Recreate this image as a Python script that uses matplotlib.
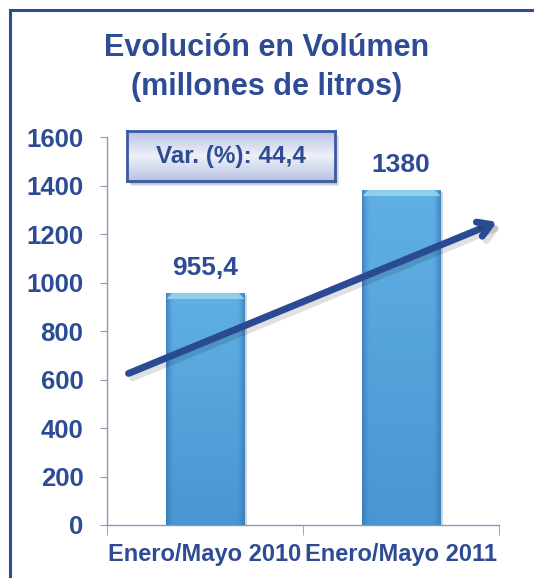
import matplotlib
matplotlib.use("Agg")
import matplotlib.pyplot as plt
import matplotlib.patheffects as pe
from matplotlib.patches import Rectangle
import numpy as np

plt.rcParams['font.family'] = ['Liberation Sans', 'DejaVu Sans']

categories = ['Enero/Mayo 2010', 'Enero/Mayo 2011']
volumes = [955.4, 1380]
value_labels = ['955,4', '1380']
yticks = [0, 200, 400, 600, 800, 1000, 1200, 1400, 1600]
variation_text = 'Var. (%): 44,4'
trend_start = (-0.39, 625)
trend_end = (1.49, 1250)

navy = '#2E4C95'
axis_col = '#8E98BC'

fig = plt.figure(figsize=(5.34, 5.78), dpi=100)
fig.patch.set_facecolor('white')

# outer border, runs off the right and bottom edges
fig.patches.append(Rectangle((0.0187, -0.2), 1.2, 1.1827, transform=fig.transFigure,
                             fill=False, edgecolor=navy, linewidth=2.2))

fig.text(0.5, 1 - 48 / 578, 'Evolución en Volúmen', ha='center', va='center',
         fontsize=22, fontweight='bold', color=navy)
fig.text(0.5, 1 - 87 / 578, '(millones de litros)', ha='center', va='center',
         fontsize=22, fontweight='bold', color=navy)

ax_h = (525 - 137) / 578
ax = fig.add_axes([107 / 534, 1 - 525 / 578, (499 - 107) / 534, ax_h])
ax.set_facecolor('none')
x = np.arange(len(categories))
bw = 0.40
bars = ax.bar(x, volumes, width=bw, color='#58A6DD', edgecolor='none', zorder=2)

ax.set_xlim(-0.5, 1.5)
ax.set_ylim(0, 1600)
px_per_unit = ax_h * 578 / 1600

# gradient fill for bars: vertical shade, darker sides, light bevel at top
top = np.array([0x60, 0xB0, 0xE4]) / 255
bot = np.array([0x4A, 0x95, 0xD2]) / 255
side = np.array([0x35, 0x75, 0xB5]) / 255
bevel_col = np.array([0x92, 0xD0, 0xF0]) / 255
for b in bars:
    b.set_path_effects([pe.SimplePatchShadow(offset=(2, -1), alpha=0.2), pe.Normal()])
    x0, y0 = b.get_x(), b.get_y()
    w, h = b.get_width(), b.get_height()
    hpx = int(h * px_per_unit)
    wpx = 79
    t = np.linspace(0, 1, hpx)[:, None, None]
    img = bot + (top - bot) * t
    img = np.repeat(img, wpx, axis=1)
    u = np.abs(np.linspace(-1, 1, wpx))[None, :, None]
    k = np.clip((u - 0.8) / 0.2, 0, 1) ** 1.5
    img = img * (1 - 0.7 * k) + side * 0.7 * k
    bev = 6
    for r in range(bev):
        row = hpx - 1 - r
        inset = bev - r
        f = 0.9 + 0.1 * r / bev
        img[row, inset:wpx - inset] = bevel_col * f + (1 - f) * top
    im = ax.imshow(np.clip(img, 0, 1), extent=(x0, x0 + w, y0, y0 + h),
                   origin='lower', aspect='auto', zorder=3, interpolation='bilinear')
    im.set_clip_path(b)

for xi, v, lab in zip(x, volumes, value_labels):
    ax.text(xi, v + 55, lab, ha='center', va='bottom', fontsize=19,
            fontweight='bold', color=navy, zorder=5)

ax.set_xlim(-0.5, 1.5)
ax.set_ylim(0, 1600)
ax.set_yticks(yticks)
ax.set_yticklabels([str(t) for t in yticks], fontsize=18.5, fontweight='bold', color=navy)
ax.set_xticks(x)
ax.set_xticklabels(categories, fontsize=17, fontweight='bold', color=navy)
ax.tick_params(axis='x', length=0, pad=13)
ax.set_xticks([-0.5, 0.5, 1.5], minor=True)
ax.tick_params(axis='x', which='minor', length=7, color=axis_col, direction='out')
ax.tick_params(axis='y', length=5, color=axis_col, direction='out', pad=12)
for s in ['top', 'right']:
    ax.spines[s].set_visible(False)
for s in ['left', 'bottom']:
    ax.spines[s].set_color(axis_col)
    ax.spines[s].set_linewidth(1.0)

# trend arrow
ax.annotate('', xy=trend_end, xytext=trend_start,
            arrowprops=dict(arrowstyle='->,head_length=0.9,head_width=0.55', lw=5,
                            color='#2B4A94', shrinkA=0, shrinkB=0,
                            path_effects=[pe.SimpleLineShadow(offset=(3, -3), alpha=0.12), pe.Normal()]),
            zorder=6, annotation_clip=False)

# variation box with soft shadow
bx0, by0, bw_, bh_ = 127 / 534, 1 - 181 / 578, (335 - 127) / 534, (181 - 131) / 578
for i, a in enumerate([0.08, 0.08, 0.10]):
    d = (i + 2) / 534
    fig.patches.append(Rectangle((bx0 + d, by0 - d * 534 / 578 * 1.3), bw_, bh_,
                                 transform=fig.transFigure, facecolor='black',
                                 edgecolor='none', alpha=a, zorder=0))
gax = fig.add_axes([bx0, by0, bw_, bh_])
gax.set_zorder(5)
grad = np.concatenate([np.linspace(0, 1, 30), np.linspace(1, 0, 30)])[:, None]
gcmap = matplotlib.colors.LinearSegmentedColormap.from_list('g', ['#B9C2E2', '#EEF0F8'])
gax.imshow(grad, aspect='auto', cmap=gcmap, extent=(0, 1, 0, 1))
gax.set_xlim(0, 1)
gax.set_ylim(0, 1)
gax.set_xticks([])
gax.set_yticks([])
for s in gax.spines.values():
    s.set_color('#3A5AA5')
    s.set_linewidth(2)
gax.text(0.5, 0.5, variation_text, ha='center', va='center', fontsize=17.5,
         fontweight='bold', color=navy)

fig.savefig('out.png', dpi=100)
